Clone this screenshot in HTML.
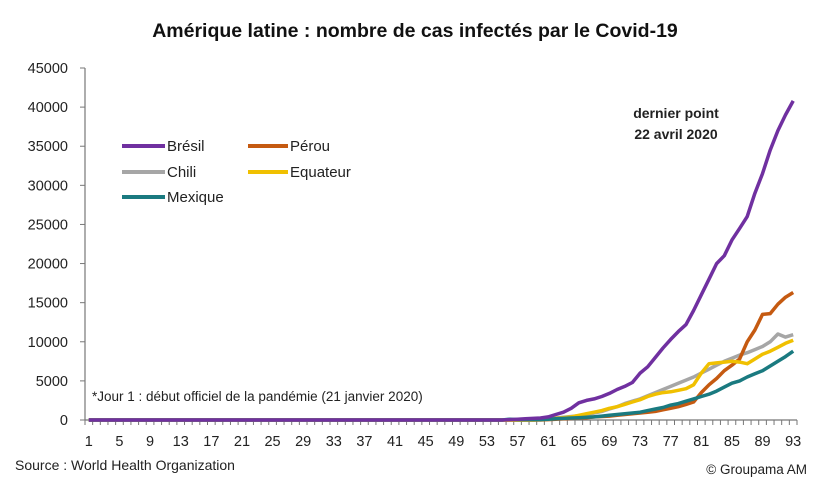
<!DOCTYPE html>
<html><head><meta charset="utf-8"><style>
body{margin:0;background:#fff;}
svg{display:block;font-family:"Liberation Sans",sans-serif;}
</style></head><body>
<svg id="chart" width="833" height="490" viewBox="0 0 833 490">
<text x="415" y="37" text-anchor="middle" font-size="19.5" font-weight="bold" fill="#111">Amérique latine : nombre de cas infectés par le Covid-19</text>
<g id="axes"></g>
<g id="series"></g>
<g font-size="15" fill="#222">
<line x1="122" y1="146" x2="165" y2="146" stroke="#7030a0" stroke-width="4"/>
<text x="167" y="151">Brésil</text>
<line x1="248" y1="146" x2="288" y2="146" stroke="#c55a11" stroke-width="4"/>
<text x="290" y="151">Pérou</text>
<line x1="122" y1="172" x2="165" y2="172" stroke="#a6a6a6" stroke-width="4"/>
<text x="167" y="177">Chili</text>
<line x1="248" y1="172" x2="288" y2="172" stroke="#f0c000" stroke-width="4"/>
<text x="290" y="177">Equateur</text>
<line x1="122" y1="197" x2="165" y2="197" stroke="#1a7a80" stroke-width="4"/>
<text x="167" y="202">Mexique</text>
</g>
<text x="676" y="118" text-anchor="middle" font-size="14" font-weight="bold" fill="#222">dernier point</text>
<text x="676" y="139" text-anchor="middle" font-size="14" font-weight="bold" fill="#222">22 avril 2020</text>
<text x="92" y="401" font-size="13.5" fill="#222">*Jour 1 : début officiel de la pandémie (21 janvier 2020)</text>
<text x="15" y="470" font-size="14" fill="#222">Source : World Health Organization</text>
<text x="807" y="474" text-anchor="end" font-size="13.5" fill="#222">© Groupama AM</text>
</svg>
<script>
const yTicks=[0,5000,10000,15000,20000,25000,30000,35000,40000,45000];
const days=[];for(let i=1;i<=93;i++)days.push(i);
const bresil=[0,0,0,0,0,0,0,0,0,0,0,0,0,0,0,0,0,0,0,0,0,0,0,0,0,0,0,0,0,0,0,0,0,0,0,0,0,0,0,0,0,0,0,0,0,0,0,0,0,0,0,0,0,0,0,50,100,150,200,250,400,700,1000,1500,2200,2500,2700,3000,3400,3900,4300,4800,6000,6800,8000,9200,10300,11300,12200,14000,16000,18000,20000,21000,23000,24500,26000,29000,31500,34500,37000,39000,40800];
const perou=[0,0,0,0,0,0,0,0,0,0,0,0,0,0,0,0,0,0,0,0,0,0,0,0,0,0,0,0,0,0,0,0,0,0,0,0,0,0,0,0,0,0,0,0,0,0,0,0,0,0,0,0,0,0,0,0,0,0,0,0,50,100,150,200,250,300,400,450,500,600,700,800,900,1000,1100,1300,1500,1700,2000,2300,3500,4500,5300,6300,7000,7800,10000,11500,13500,13600,14800,15700,16300];
const chili=[0,0,0,0,0,0,0,0,0,0,0,0,0,0,0,0,0,0,0,0,0,0,0,0,0,0,0,0,0,0,0,0,0,0,0,0,0,0,0,0,0,0,0,0,0,0,0,0,0,0,0,0,0,0,0,0,0,0,0,50,150,250,350,450,550,700,900,1100,1400,1700,2100,2400,2700,3100,3500,3900,4300,4700,5100,5500,6000,6500,7000,7500,7900,8300,8600,9000,9400,10000,11000,10600,10900];
const equateur=[0,0,0,0,0,0,0,0,0,0,0,0,0,0,0,0,0,0,0,0,0,0,0,0,0,0,0,0,0,0,0,0,0,0,0,0,0,0,0,0,0,0,0,0,0,0,0,0,0,0,0,0,0,0,0,0,0,0,0,50,100,200,300,400,600,800,1000,1200,1500,1700,2000,2300,2600,3000,3300,3500,3600,3800,4000,4500,6000,7200,7300,7400,7500,7400,7200,7800,8400,8800,9300,9800,10200];
const mexique=[0,0,0,0,0,0,0,0,0,0,0,0,0,0,0,0,0,0,0,0,0,0,0,0,0,0,0,0,0,0,0,0,0,0,0,0,0,0,0,0,0,0,0,0,0,0,0,0,0,0,0,0,0,0,0,100,50,50,50,50,100,150,200,250,300,350,400,500,600,700,800,900,1000,1200,1400,1600,1900,2100,2400,2700,3000,3300,3700,4200,4700,5000,5500,5900,6300,6900,7500,8100,8800];
const X0=85,X1=797,Y0=420,Y1=68,YMAX=45000;
const step=(X1-X0)/days.length;
const x=d=>X0+(d-0.5)*step;
const y=v=>Y0-v/YMAX*(Y0-Y1);
const NS='http://www.w3.org/2000/svg';
const axes=document.getElementById('axes'),ser=document.getElementById('series');
function mk(tag,attrs,parent){const e=document.createElementNS(NS,tag);for(const k in attrs)e.setAttribute(k,attrs[k]);parent.appendChild(e);return e;}
let l=mk('line',{x1:X0,y1:Y1,x2:X0,y2:Y0,stroke:'#777','stroke-width':1.2},axes);


yTicks.forEach(v=>{
 const t=mk('line',{x1:X0-5,y1:y(v),x2:X0,y2:y(v),stroke:'#777'},axes);
 
 
 const tx=mk('text',{x:68,y:y(v)+5,'text-anchor':'end','font-size':14.5,fill:'#222'},axes);
 tx.textContent=v;
 
 
});
l=mk('line',{x1:X0,y1:Y0,x2:X1,y2:Y0,stroke:'#777','stroke-width':1.2},axes);


for(let i=0;i<=days.length;i++){
 const t=mk('line',{x1:X0+i*step,y1:Y0,x2:X0+i*step,y2:Y0+5,stroke:'#777'},axes);
 
 
}
days.forEach(d=>{if((d-1)%4===0){
 const tx=mk('text',{x:x(d),y:446,'text-anchor':'middle','font-size':14.5,fill:'#222'},axes);
 tx.textContent=d;
 
 
}});
const series=[['chili',chili,'#a6a6a6'],['perou',perou,'#c55a11'],['equateur',equateur,'#f0c000'],['mexique',mexique,'#1a7a80'],['bresil',bresil,'#7030a0']];
series.forEach(([n,arr,c])=>{
 const p=mk('polyline',{points:arr.map((v,i)=>x(days[i]).toFixed(1)+','+y(v).toFixed(1)).join(' '),fill:'none',stroke:c,'stroke-width':3.5,'stroke-linejoin':'round'},ser);
 
 
});
</script>
</body></html>
